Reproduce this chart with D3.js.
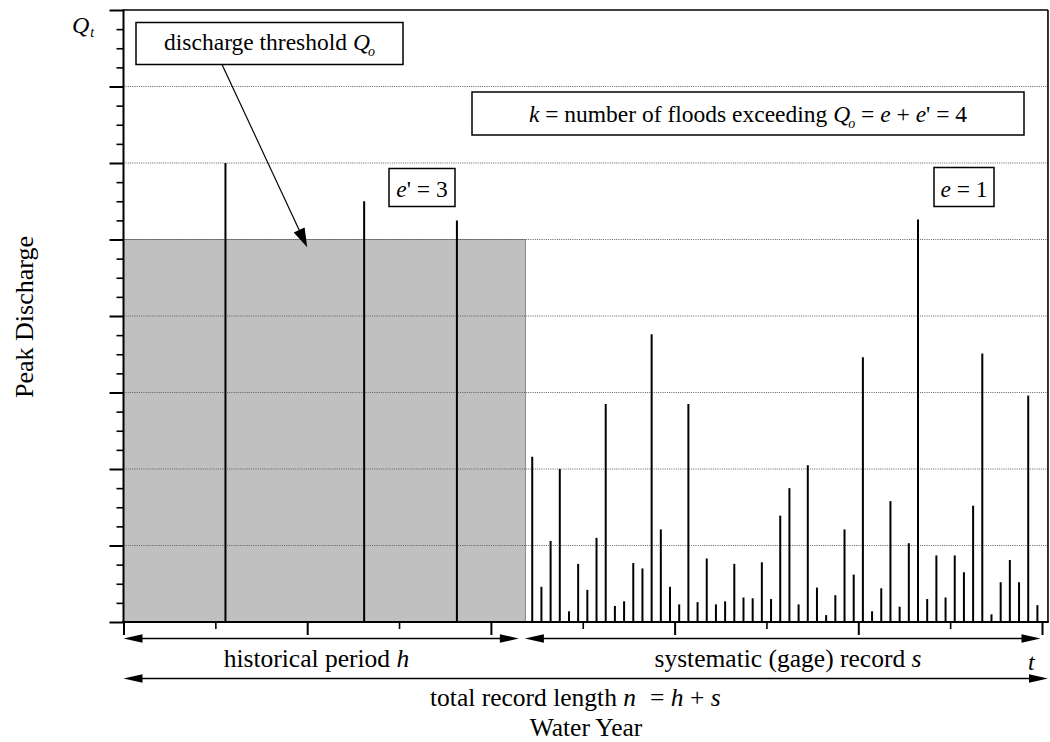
<!DOCTYPE html>
<html><head><meta charset="utf-8">
<script src="https://cdn.jsdelivr.net/npm/d3@7"></script>
<style>
html,body{margin:0;padding:0;background:#fff;overflow:hidden}
svg{display:block;position:absolute;left:0;top:0}
</style>
</head><body>
<svg id="c" width="1050" height="742" font-family="'Liberation Serif', 'Times New Roman', Times, 'DejaVu Serif', serif"></svg>
<script>
// ---------------- data ----------------
const sysYears = [45,46,47,48,49,50,51,52,53,54,55,56,57,58,59,60,61,62,63,64,65,66,67,68,69,70,71,72,
  73,74,75,76,77,78,79,80,81,82,83,84,85,86,87,88,89,90,91,92,93,94,95,96,97,98,99,100];
const sysPeaks = [2.16,0.46,1.06,2.00,0.14,0.76,0.42,1.10,2.85,0.21,0.27,0.77,0.70,3.76,1.21,0.46,0.23,2.85,
  0.26,0.83,0.23,0.27,0.76,0.32,0.31,0.78,0.30,1.39,1.75,
  0.23,2.05,0.45,0.09,0.35,1.21,0.62,3.46,0.14,0.44,1.58,0.20,1.03,5.26,0.30,0.87,0.32,0.87,0.65,1.52,3.51,
  0.10,0.52,0.81,0.52,2.96,0.22];
const histYears = [11.1, 26.2, 36.3];
const histPeaks = [6.0, 5.5, 5.25];
const threshold = 5.0;
const histEnd = 43.75;
const xMax = 100.65;
const yMax = 8;
const xMajorTicks = [0,20,40,60,80,100];
const xMinorTicks = [10,30,50,70,90];
const yMajorTicks = [0,1,2,3,4,5,6,7,8];
const yMinorTicks = [0.25,0.5,0.75,1.25,1.5,1.75,2.25,2.5,2.75,3.25,3.5,3.75,4.25,4.5,4.75,5.25,5.5,5.75,
  6.25,6.5,6.75,7.25,7.5,7.75];
const gridValues = [1,2,3,4,5,6,7];

const FONT = "'Liberation Serif', 'Times New Roman', Times, 'DejaVu Serif', serif";

// ---------------- scales ----------------
const svg = d3.select("#c");
const x = d3.scaleLinear().domain([0,100]).range([123.5,1042]);
const y = d3.scaleLinear().domain([0,yMax]).range([622,10]);

// threshold (historical) shaded rectangle
svg.append("rect")
  .attr("x", x(0)).attr("y", y(threshold))
  .attr("width", x(histEnd)-x(0)).attr("height", y(0)-y(threshold))
  .attr("fill","#c0c0c0").attr("stroke","#707070").attr("stroke-width",0.8);

// gridlines
svg.append("g").selectAll("line").data(gridValues).join("line")
  .attr("x1", x(0)).attr("x2", x(xMax))
  .attr("y1", d=>y(d)).attr("y2", d=>y(d))
  .attr("stroke","#606060").attr("stroke-width",1).attr("stroke-dasharray","1,1.2");

// systematic peaks
svg.append("g").selectAll("line").data(sysYears).join("line")
  .attr("x1",d=>x(d-0.5)).attr("x2",d=>x(d-0.5))
  .attr("y1",y(0)).attr("y2",(d,i)=>y(sysPeaks[i]))
  .attr("stroke","#000").attr("stroke-width",2);

// historical peaks
svg.append("g").selectAll("line").data(histYears).join("line")
  .attr("x1",d=>x(d)).attr("x2",d=>x(d))
  .attr("y1",y(0)).attr("y2",(d,i)=>y(histPeaks[i]))
  .attr("stroke","#000").attr("stroke-width",2);

// axes
function styleAxis(g, w){
  g.select(".domain").remove();
  g.selectAll(".tick line").attr("stroke","#000").attr("stroke-width",w);
}
svg.append("g").attr("transform",`translate(${x(0)},0)`)
  .call(d3.axisLeft(y).tickValues(yMinorTicks).tickSize(7).tickFormat(""))
  .call(g=>styleAxis(g,1.6));
svg.append("g").attr("transform",`translate(${x(0)},0)`)
  .call(d3.axisLeft(y).tickValues(yMajorTicks).tickSize(14).tickFormat(""))
  .call(g=>styleAxis(g,2));
svg.append("g").attr("transform",`translate(0,${y(0)})`)
  .call(d3.axisBottom(x).tickValues(xMinorTicks).tickSize(7).tickFormat(""))
  .call(g=>styleAxis(g,1.6));
svg.append("g").attr("transform",`translate(0,${y(0)})`)
  .call(d3.axisBottom(x).tickValues(xMajorTicks).tickSize(13).tickFormat(""))
  .call(g=>styleAxis(g,2));

// frame
svg.append("line").attr("x1",x(0)).attr("x2",x(xMax)).attr("y1",y(yMax)).attr("y2",y(yMax))
  .attr("stroke","#000").attr("stroke-width",1.4);
svg.append("line").attr("x1",x(xMax)).attr("x2",x(xMax)).attr("y1",y(yMax)).attr("y2",y(0))
  .attr("stroke","#000").attr("stroke-width",1.6);
svg.append("line").attr("x1",x(0)).attr("x2",x(0)).attr("y1",y(yMax)-0.7).attr("y2",y(0)+1)
  .attr("stroke","#000").attr("stroke-width",2);
svg.append("line").attr("x1",x(0)-1).attr("x2",x(xMax)+0.8).attr("y1",y(0)).attr("y2",y(0))
  .attr("stroke","#000").attr("stroke-width",2);

// arrow helper (filled heads)
function arrowHead(px,py,dx,dy,len,hw){
  const L=Math.hypot(dx,dy), ux=dx/L, uy=dy/L;
  const bx=px-ux*len, by=py-uy*len;
  return `M${px},${py}L${bx-uy*hw},${by+ux*hw}L${bx+uy*hw},${by-ux*hw}Z`;
}
function dblArrow(x1,x2,yy){
  svg.append("line").attr("x1",x1+10).attr("x2",x2-10).attr("y1",yy).attr("y2",yy)
    .attr("stroke","#000").attr("stroke-width",1.4);
  svg.append("path").attr("d",arrowHead(x1,yy,-1,0,19,4.3)).attr("fill","#000");
  svg.append("path").attr("d",arrowHead(x2,yy,1,0,19,4.3)).attr("fill","#000");
}
dblArrow(x(0), x(histEnd)-6.5, 638.5);
dblArrow(x(histEnd)-0.5, x(100)-1.5, 638.5);
dblArrow(x(0), x(xMax), 678.5);

function txt(xx, yy, size, anchor){
  return svg.append("text").attr("x",xx).attr("y",yy).attr("text-anchor",anchor||"middle")
    .attr("font-family",FONT).attr("font-size",size).attr("fill","#000");
}
// bottom labels
const big = 25.5;
let t1 = txt((x(0)+x(histEnd))/2 - 8, 667, big);
t1.append("tspan").text("historical period ");
t1.append("tspan").attr("font-style","italic").text("h");
let t2 = txt(788, 667, big);
t2.append("tspan").text("systematic (gage) record ");
t2.append("tspan").attr("font-style","italic").text("s");
let t3 = txt(430, 705.5, big, "start");
t3.append("tspan").text("total record length ");
t3.append("tspan").attr("font-style","italic").text("n");
t3.append("tspan").attr("dx",14).text("= ");
t3.append("tspan").attr("font-style","italic").text("h");
t3.append("tspan").text(" + ");
t3.append("tspan").attr("font-style","italic").text("s");
txt(586, 736, big).text("Water Year");
txt(1028, 670, 24, "start").attr("font-style","italic").text("t");

// y label
svg.append("text").attr("transform",`translate(33,${(y(0)+y(yMax))/2+1}) rotate(-90)`)
  .attr("text-anchor","middle").attr("font-family",FONT).attr("font-size",26).text("Peak Discharge");

// Q_t
const qt = txt(72, 33, 24, "start").attr("font-style","italic");
qt.append("tspan").text("Q");
qt.append("tspan").attr("font-size",14).attr("dx",1).attr("dy",3.5).text("t");

// boxes
const small = 23.5;
function box(x0,y0,x1,y1){
  svg.append("rect").attr("x",x0).attr("y",y0).attr("width",x1-x0).attr("height",y1-y0)
    .attr("fill","#fff").attr("stroke","#000").attr("stroke-width",1.5);
}
// discharge threshold box + arrow
box(136,22.5,403,64.5);
const tb = txt(269.5, 50, small);
tb.append("tspan").text("discharge threshold ");
tb.append("tspan").attr("font-style","italic").text("Q");
tb.append("tspan").attr("font-style","italic").attr("font-size",14).attr("dx",-2).attr("dy",6).text("o");

const ax0 = 222, ay0 = 64.5, ax1 = x(20), ay1 = y(4.9);
svg.append("line").attr("x1",ax0).attr("y1",ay0).attr("x2",ax1-(ax1-ax0)*0.06).attr("y2",ay1-(ay1-ay0)*0.06)
  .attr("stroke","#000").attr("stroke-width",1.2);
svg.append("path").attr("d",arrowHead(ax1,ay1,ax1-ax0,ay1-ay0,19,6)).attr("fill","#000");

// k box
box(472,92,1024,135);
const tk = txt(748, 121.5, small);
tk.append("tspan").attr("font-style","italic").text("k");
tk.append("tspan").text(" = number of floods exceeding ");
tk.append("tspan").attr("font-style","italic").text("Q");
tk.append("tspan").attr("font-style","italic").attr("font-size",14).attr("dx",-2).attr("dy",6).text("o");
tk.append("tspan").attr("dy",-6).text(" = ");
tk.append("tspan").attr("font-style","italic").text("e");
tk.append("tspan").text(" + ");
tk.append("tspan").attr("font-style","italic").text("e");
tk.append("tspan").text("' = 4");

// e' box
box(389,168.5,455,206.5);
const te1 = txt(422, 197, small);
te1.append("tspan").attr("font-style","italic").text("e");
te1.append("tspan").text("' = 3");
// e box
box(934,167.5,994,206.5);
const te2 = txt(964, 197, small);
te2.append("tspan").attr("font-style","italic").text("e");
te2.append("tspan").text(" = 1");
</script>
</body></html>
